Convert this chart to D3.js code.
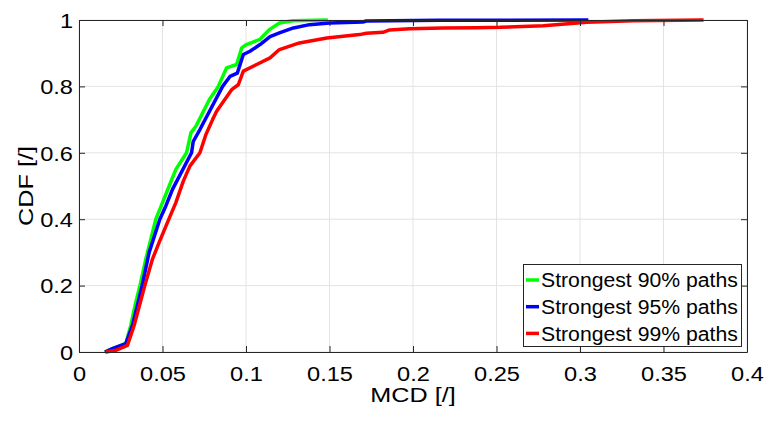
<!DOCTYPE html>
<html><head><meta charset="utf-8">
<script src="https://cdn.jsdelivr.net/npm/d3@7"></script>
<style>body{margin:0;background:#fff}svg{display:block}text{font-family:"Liberation Sans",Arial,Helvetica,sans-serif;fill:#000}</style>
</head><body><div id="c"></div>
<script>
const xTicks=[0,0.05,0.1,0.15,0.2,0.25,0.3,0.35,0.4];
const yTicks=[0,0.2,0.4,0.6,0.8,1];
const xTickLabels=["0","0.05","0.1","0.15","0.2","0.25","0.3","0.35","0.4"];
const yTickLabels=["0","0.2","0.4","0.6","0.8","1"];
const seriesNames=["Strongest 90% paths","Strongest 95% paths","Strongest 99% paths"];
const seriesColors=["#00ff00","#0000ff","#ff0000"];
const green=[[0.0155,0],[0.020,0.01],[0.028,0.025],[0.031,0.08],[0.034,0.15],[0.0365,0.2],[0.040,0.28],[0.043,0.34],[0.046,0.4],[0.050,0.45],[0.054,0.5],[0.058,0.55],[0.0644,0.6],[0.067,0.66],[0.070,0.68],[0.074,0.72],[0.078,0.76],[0.0834,0.8],[0.0884,0.856],[0.0944,0.866],[0.0974,0.916],[0.1003,0.926],[0.1084,0.942],[0.114,0.971],[0.120,0.991],[0.128,0.998],[0.149,1]];
const blue=[[0.0155,0],[0.020,0.01],[0.028,0.025],[0.032,0.08],[0.0378,0.2],[0.042,0.3],[0.0484,0.4],[0.052,0.44],[0.056,0.49],[0.0674,0.6],[0.0684,0.634],[0.0724,0.67],[0.086,0.8],[0.0904,0.83],[0.0948,0.84],[0.0984,0.896],[0.1024,0.906],[0.1084,0.926],[0.1144,0.950],[0.120,0.961],[0.1284,0.976],[0.138,0.986],[0.150,0.991],[0.170,0.994],[0.172,0.997],[0.216,0.999],[0.305,1]];
const red=[[0.016,0],[0.022,0.005],[0.029,0.02],[0.033,0.08],[0.0394,0.2],[0.044,0.28],[0.048,0.33],[0.0538,0.4],[0.058,0.45],[0.0624,0.514],[0.0664,0.56],[0.0724,0.6],[0.0760,0.655],[0.080,0.7],[0.0824,0.725],[0.0914,0.79],[0.0954,0.805],[0.0984,0.846],[0.1064,0.866],[0.1144,0.886],[0.120,0.911],[0.132,0.931],[0.1484,0.946],[0.168,0.956],[0.172,0.96],[0.182,0.963],[0.186,0.97],[0.198,0.974],[0.218,0.976],[0.238,0.977],[0.252,0.978],[0.278,0.983],[0.304,0.993],[0.332,0.998],[0.374,1]];
const seriesData=[green,blue,red];

const W=766,H=421;
const m={l:79,r:19,t:20,b:69};
const svg=d3.select("#c").append("svg").attr("width",W).attr("height",H);
const x=d3.scaleLinear().domain([0,0.4]).range([m.l,W-m.r]);
const y=d3.scaleLinear().domain([0,1]).range([H-m.b,m.t]);

function stretch(sel,f){
  sel.each(function(){
    const L=this.getComputedTextLength();
    if(L>0) d3.select(this).attr("textLength",L*f).attr("lengthAdjust","spacingAndGlyphs");
  });
}

// grid
svg.append("g").selectAll("line").data(xTicks).join("line")
  .attr("x1",d=>x(d)).attr("x2",d=>x(d)).attr("y1",y(0)).attr("y2",y(1))
  .attr("stroke","#e3e3e3").attr("stroke-width",1);
svg.append("g").selectAll("line").data(yTicks).join("line")
  .attr("x1",x(0)).attr("x2",x(0.4)).attr("y1",d=>y(d)).attr("y2",d=>y(d))
  .attr("stroke","#e3e3e3").attr("stroke-width",1);

// lines
const line=d3.line().x(d=>x(d[0])).y(d=>y(d[1]));
seriesData.forEach((s,i)=>{
  svg.append("path").datum(s).attr("d",line).attr("fill","none")
    .attr("stroke",seriesColors[i]).attr("stroke-width",3.5).attr("stroke-linejoin","round");
});

// axes
const fmtX=(d,i)=>xTickLabels[i], fmtY=(d,i)=>yTickLabels[i];
const gx=svg.append("g").attr("transform",`translate(0,${y(0)})`)
  .call(d3.axisBottom(x).tickValues(xTicks).tickFormat(fmtX).tickSizeInner(-6).tickSizeOuter(0).tickPadding(15));
const gy=svg.append("g").attr("transform",`translate(${x(0)},0)`)
  .call(d3.axisLeft(y).tickValues(yTicks).tickFormat(fmtY).tickSizeInner(-6).tickSizeOuter(0).tickPadding(6));
const gt=svg.append("g").attr("transform",`translate(0,${y(1)})`)
  .call(d3.axisTop(x).tickValues(xTicks).tickFormat("").tickSizeInner(-6).tickSizeOuter(0));
const gr=svg.append("g").attr("transform",`translate(${x(0.4)},0)`)
  .call(d3.axisRight(y).tickValues(yTicks).tickFormat("").tickSizeInner(-6).tickSizeOuter(0));
[gx,gy,gt,gr].forEach(g=>{
  g.selectAll("path").attr("stroke","#262626").attr("stroke-width",1);
  g.selectAll("line").attr("stroke","#262626");
  g.selectAll("text").attr("font-size",20).attr("font-family","Liberation Sans, Arial, sans-serif").attr("fill","#000");
});
gx.selectAll("text").attr("dy","0.71em");
gy.selectAll("text").attr("dy","0.36em");
stretch(gx.selectAll("text"),1.18);
stretch(gy.selectAll("text"),1.18);

// labels
const xl=svg.append("text").attr("x",(x(0)+x(0.4))/2).attr("y",402).attr("text-anchor","middle")
  .attr("font-size",21).text("MCD [/]");
stretch(xl,1.2);
const yl=svg.append("text").attr("transform",`translate(33,${(y(0)+y(1))/2}) rotate(-90)`).attr("text-anchor","middle")
  .attr("font-size",21).text("CDF [/]");
stretch(yl,1.2);

// legend
const lg=svg.append("g");
lg.append("rect").attr("x",523.5).attr("y",264.5).attr("width",218).attr("height",82)
  .attr("fill","#fff").attr("stroke","#262626").attr("stroke-width",1);
seriesNames.forEach((n,i)=>{
  const cy=280+i*26.7;
  lg.append("line").attr("x1",526).attr("x2",539).attr("y1",cy).attr("y2",cy)
    .attr("stroke",seriesColors[i]).attr("stroke-width",3.5);
  const t=lg.append("text").attr("x",541).attr("y",cy).attr("dy","0.36em").attr("font-size",20).text(n);
  stretch(t,1.06);
});
</script></body></html>
